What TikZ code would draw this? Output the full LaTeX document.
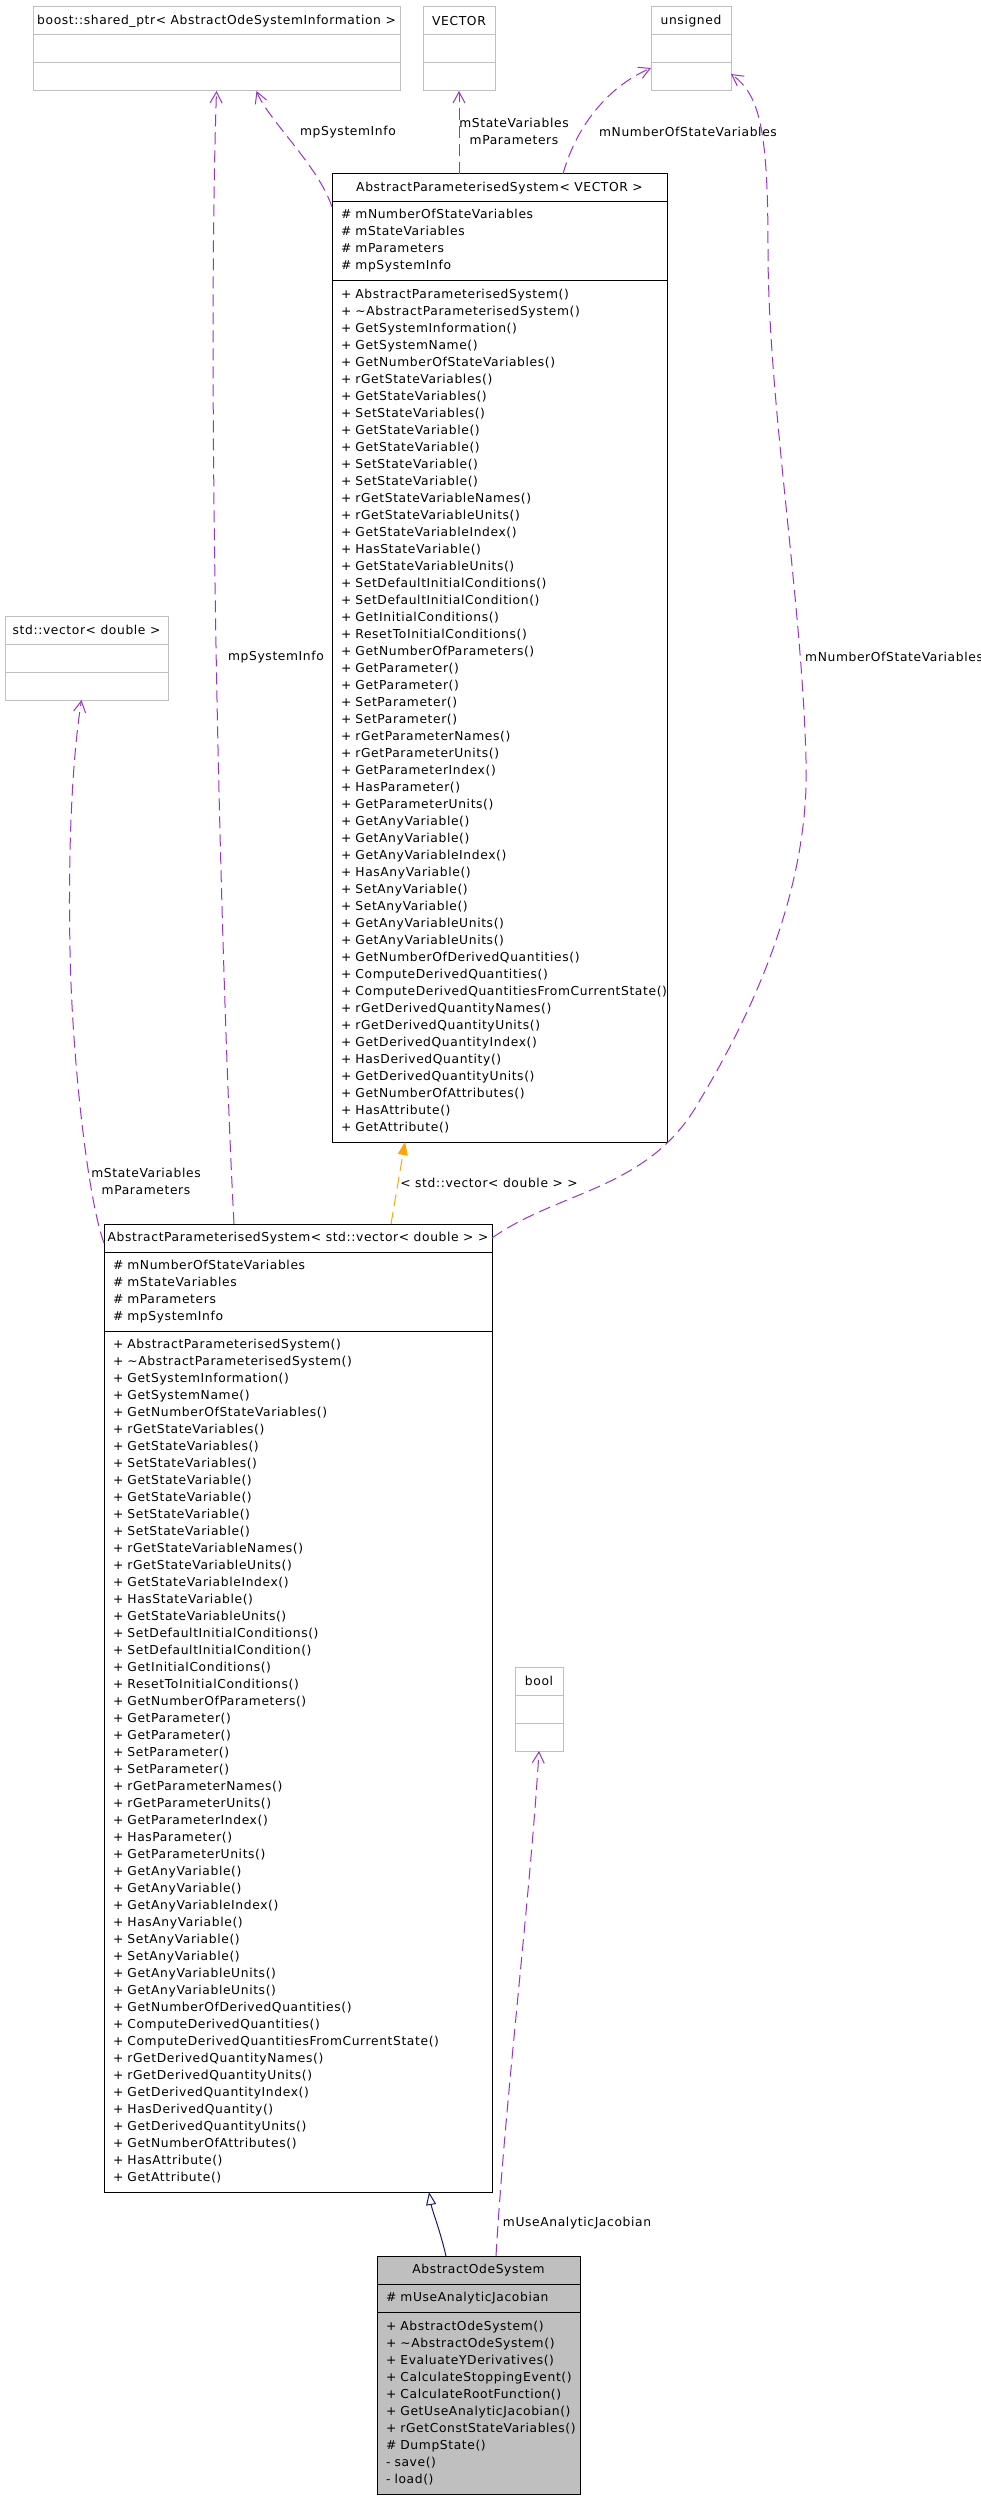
\documentclass[tikz,border=0pt]{standalone}
\usepackage{fontspec}
\setmainfont{DejaVu Sans}[LetterSpace=5]
\usepackage{xcolor}
\definecolor{usepurple}{HTML}{9A32CD}
\definecolor{tmplorange}{HTML}{FFA500}
\definecolor{inhblue}{HTML}{191970}
\definecolor{extgray}{HTML}{BFBFBF}
\usepackage{tikz}
\usetikzlibrary{arrows.meta,positioning,calc}

\newcommand{\apsattrs}{\# mNumberOfStateVariables\\\# mStateVariables\\\# mParameters\\\# mpSystemInfo}
\newcommand{\apsops}{+ AbstractParameterisedSystem()\\+ \textasciitilde AbstractParameterisedSystem()\\+ GetSystemInformation()\\+ GetSystemName()\\+ GetNumberOfStateVariables()\\+ rGetStateVariables()\\+ GetStateVariables()\\+ SetStateVariables()\\+ GetStateVariable()\\+ GetStateVariable()\\+ SetStateVariable()\\+ SetStateVariable()\\+ rGetStateVariableNames()\\+ rGetStateVariableUnits()\\+ GetStateVariableIndex()\\+ HasStateVariable()\\+ GetStateVariableUnits()\\+ SetDefaultInitialConditions()\\+ SetDefaultInitialCondition()\\+ GetInitialConditions()\\+ ResetToInitialConditions()\\+ GetNumberOfParameters()\\+ GetParameter()\\+ GetParameter()\\+ SetParameter()\\+ SetParameter()\\+ rGetParameterNames()\\+ rGetParameterUnits()\\+ GetParameterIndex()\\+ HasParameter()\\+ GetParameterUnits()\\+ GetAnyVariable()\\+ GetAnyVariable()\\+ GetAnyVariableIndex()\\+ HasAnyVariable()\\+ SetAnyVariable()\\+ SetAnyVariable()\\+ GetAnyVariableUnits()\\+ GetAnyVariableUnits()\\+ GetNumberOfDerivedQuantities()\\+ ComputeDerivedQuantities()\\\mbox{+ ComputeDerivedQuantitiesFromCurrentState()}\\+ rGetDerivedQuantityNames()\\+ rGetDerivedQuantityUnits()\\+ GetDerivedQuantityIndex()\\+ HasDerivedQuantity()\\+ GetDerivedQuantityUnits()\\+ GetNumberOfAttributes()\\+ HasAttribute()\\+ GetAttribute()}

\begin{document}
\begin{tikzpicture}[
  x=1pt,y=-1pt,
  font=\fontsize{12.3}{17}\selectfont,
  cls/.style={draw=black,line width=1pt,fill=white,inner sep=0pt,outer sep=0pt,minimum height=28pt},
  ext/.style={draw=extgray,line width=1pt,fill=white,inner sep=0pt,outer sep=0pt,minimum height=28pt,minimum width=#1},
  hd/.style={cls,minimum width=#1,align=center},
  lst/.style={cls,text width=#1,inner xsep=9pt,align=left},
  use/.style={draw=usepurple,line width=1pt,dash pattern=on 12pt off 6pt,-{Straight Barb[length=11pt,width=12pt]}},
  tmpl/.style={draw=tmplorange,line width=1pt,dash pattern=on 12pt off 6pt,-{Triangle[length=13pt,width=10pt,fill=tmplorange]}},
  inh/.style={draw=inhblue,line width=1pt,-{Triangle[open,length=13pt,width=10pt,fill=white]}},
  lbl/.style={inner sep=0pt,align=center}]
  \useasboundingbox (0,0) rectangle (981,2499);

  % external types
  \node[ext=367,anchor=north west] (boostH) at (33,7) {boost::shared\_ptr< AbstractOdeSystemInformation >};
  \node[ext=367,below=0pt of boostH] (boostA) {};
  \node[ext=367,below=0pt of boostA] (boostM) {};
  \node[ext=72,anchor=north west] (vectorH) at (423,7) {VECTOR};
  \node[ext=72,below=0pt of vectorH] (vectorA) {};
  \node[ext=72,below=0pt of vectorA] (vectorM) {};
  \node[ext=80,anchor=north west] (unsignedH) at (651,7) {unsigned};
  \node[ext=80,below=0pt of unsignedH] (unsignedA) {};
  \node[ext=80,below=0pt of unsignedA] (unsignedM) {};
  \node[ext=163,anchor=north west] (stdvecH) at (5,616) {std::vector< double >};
  \node[ext=163,below=0pt of stdvecH] (stdvecA) {};
  \node[ext=163,below=0pt of stdvecA] (stdvecM) {};
  \node[ext=48,anchor=north west] (boolH) at (515,1667) {bool};
  \node[ext=48,below=0pt of boolH] (boolA) {};
  \node[ext=48,below=0pt of boolA] (boolM) {};

  % template class
  \node[hd=335,anchor=north west] (apsVecH) at (332,174) {AbstractParameterisedSystem< VECTOR >};
  \node[lst=317,minimum height=78pt,below=0pt of apsVecH] (apsVecA) {\apsattrs};
  \node[lst=317,minimum height=862pt,below=0pt of apsVecA] (apsVecM) {\apsops};

  % instantiation
  \node[hd=388,anchor=north west] (apsStdH) at (104,1224) {AbstractParameterisedSystem< std::vector< double > >};
  \node[lst=370,minimum height=79pt,below=0pt of apsStdH] (apsStdA) {\apsattrs};
  \node[lst=370,minimum height=861pt,below=0pt of apsStdA] (apsStdM) {\apsops};

  % documented class
  \node[hd=203,fill=extgray,anchor=north west] (odeH) at (377,2256) {AbstractOdeSystem};
  \node[lst=185,fill=extgray,below=0pt of odeH] (odeA) {\# mUseAnalyticJacobian};
  \node[lst=185,fill=extgray,minimum height=182pt,below=0pt of odeA] (odeM) {+ AbstractOdeSystem()\\+ \textasciitilde AbstractOdeSystem()\\+ EvaluateYDerivatives()\\+ CalculateStoppingEvent()\\+ CalculateRootFunction()\\+ GetUseAnalyticJacobian()\\\mbox{+ rGetConstStateVariables()}\\\# DumpState()\\- save()\\- load()};

  % usage edges
  \draw[use] ($(apsVecA.north west)+(0,5)$) .. controls (318,165) and (268,120) .. ($(boostM.south)+(40,0)$);
  \draw[use] ($(apsStdH.north west)+(130,0)$) .. controls (222,1000) and (206,400) .. (boostM.south);
  \draw[use] (vectorM.south |- apsVecH.north) -- (vectorM.south);
  \draw[use] ($(apsVecH.north west)+(231,0)$) .. controls (575,130) and (605,88) .. ($(unsignedM.west)+(0,-9)$);
  \draw[use] (apsStdH.east) .. controls (560,1190) and (650,1190) .. (700,1100)
    .. controls (760,1000) and (810,880) .. (806,760)
    .. controls (802,600) and (768,400) .. (768,250)
    .. controls (768,130) and (760,95) .. ($(unsignedM.east)+(0,-3)$);
  \draw[use] ($(apsStdH.west)+(0,5)$) .. controls (88,1200) and (72,1060) .. (70,950)
    .. controls (68,850) and (72,760) .. ($(stdvecM.south)+(-5,0)$);
  \draw[use] ($(odeH.north west)+(119,0)$) .. controls (505,2100) and (530,1900) .. (boolM.south);
  \draw[tmpl] ($(apsStdH.north west)+(287,0)$) -- ($(apsVecM.south west)+(73,0)$);
  \draw[inh] ($(odeH.north west)+(69,0)$) .. controls (440,2230) and (432,2210) .. ($(apsStdM.south west)+(325,0)$);

  % edge labels
  \node[lbl] (lblInfoTop) at (348,132) {mpSystemInfo};
  \node[lbl] (lblStateTop) at (514,131) {mStateVariables\\mParameters};
  \node[lbl] (lblNumTop) at (688,132) {mNumberOfStateVariables};
  \node[lbl] (lblInfoLow) at (276,657) {mpSystemInfo};
  \node[lbl,anchor=west] (lblNumLow) at (805,657) {mNumberOfStateVariables};
  \node[lbl] (lblStateLow) at (146,1181) {mStateVariables\\mParameters};
  \node[lbl] (lblTmpl) at (489,1183) {< std::vector< double > >};
  \node[lbl] (lblJac) at (577,2223) {mUseAnalyticJacobian};
\end{tikzpicture}
\end{document}
